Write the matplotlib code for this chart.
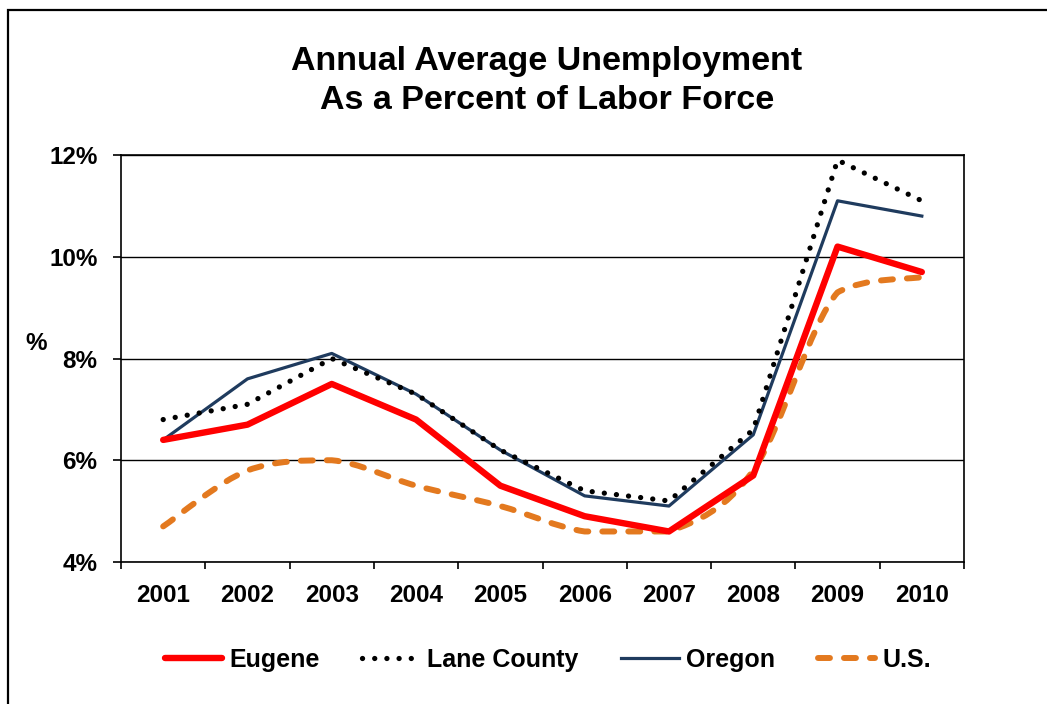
import matplotlib
matplotlib.use("Agg")
import matplotlib.pyplot as plt
from matplotlib.path import Path
from matplotlib.patches import PathPatch, Rectangle
from matplotlib.lines import Line2D
import numpy as np

plt.rcParams['font.family'] = ['Liberation Sans', 'DejaVu Sans']
plt.rcParams['font.weight'] = 'bold'

years = ['2001', '2002', '2003', '2004', '2005', '2006', '2007', '2008', '2009', '2010']
eugene = [6.4, 6.7, 7.5, 6.8, 5.5, 4.9, 4.6, 5.7, 10.2, 9.7]
lane_county = [6.8, 7.1, 8.0, 7.3, 6.2, 5.4, 5.2, 6.6, 11.9, 11.1]
oregon = [6.4, 7.6, 8.1, 7.3, 6.2, 5.3, 5.1, 6.5, 11.1, 10.8]
us = [4.7, 5.8, 6.0, 5.5, 5.1, 4.6, 4.6, 5.8, 9.3, 9.6]
y_ticks = [4, 6, 8, 10, 12]


def smooth_path(xs, ys):
    # bezier segments like a spreadsheet "smoothed line",
    # control points kept within each segment's y range so it won't overshoot
    pts = np.column_stack([xs, ys]).astype(float)
    ext = np.vstack([pts[0], pts, pts[-1]])
    verts = [pts[0]]
    codes = [Path.MOVETO]
    for i in range(len(pts) - 1):
        p0, p1, p2, p3 = ext[i], ext[i + 1], ext[i + 2], ext[i + 3]
        c1 = p1 + (p2 - p0) / 6.0
        c2 = p2 - (p3 - p1) / 6.0
        lo, hi = min(p1[1], p2[1]), max(p1[1], p2[1])
        c1[1] = np.clip(c1[1], lo, hi)
        c2[1] = np.clip(c2[1], lo, hi)
        verts += [c1, c2, p2]
        codes += [Path.CURVE4] * 3
    return Path(verts, codes)


fig = plt.figure(figsize=(10.47, 7.04), dpi=100)
ax = fig.add_axes([0.1156, 0.2017, 0.8051, 0.5781])

x = np.arange(1, len(years) + 1)

us_style = dict(color='#E3791F', linewidth=4.3, linestyle=(0, (2.0, 2.35)))
ax.add_patch(PathPatch(smooth_path(x, us), fill=False, capstyle='round',
                       joinstyle='round', zorder=3, **us_style))
ax.plot(x, oregon, color='#1F3B5E', linewidth=2.3, zorder=4)
ax.plot(x, eugene, color='#FF0000', linewidth=4.6, solid_capstyle='round', zorder=5)
ax.plot(x, lane_county, color='black', linewidth=3.8, linestyle=(0, (0.01, 2.3)),
        dash_capstyle='round', zorder=6)

ax.set_xlim(0.5, len(years) + 0.5)
ax.set_ylim(4, 12)

# category boundaries carry the ticks, centres carry the labels
ax.set_xticks(np.arange(0.5, len(years) + 1, 1.0))
ax.set_xticklabels([])
ax.set_xticks(x, minor=True)
ax.set_xticklabels(years, minor=True, fontsize=17.5, fontweight='bold')
ax.tick_params(axis='x', which='major', direction='out', length=5, width=1.2)
ax.tick_params(axis='x', which='minor', length=0, pad=16)

ax.set_yticks(y_ticks)
ax.set_yticklabels([f'{v}%' for v in y_ticks], fontsize=17.5, fontweight='bold')
ax.tick_params(axis='y', direction='out', length=6, width=1.2, pad=11)
ax.yaxis.grid(True, color='black', linewidth=1.0)
ax.set_axisbelow(True)

for s in ax.spines.values():
    s.set_linewidth(1.2)
    s.set_color('black')

fig.text(25 / 1047, 1 - 344 / 704, '%', fontsize=17.5, fontweight='bold',
         ha='left', va='center')

fig.text(547 / 1047, 1 - 81 / 704,
         'Annual Average Unemployment\nAs a Percent of Labor Force',
         fontsize=24.5, fontweight='bold', ha='center', va='center', linespacing=1.3)

handles = [
    Line2D([], [], color='#FF0000', linewidth=4.6, solid_capstyle='round'),
    Line2D([], [], color='black', linewidth=3.8, linestyle=(0, (0.01, 2.3)),
           dash_capstyle='round'),
    Line2D([], [], color='#1F3B5E', linewidth=2.3),
    Line2D([], [], color='#E3791F', linewidth=4.3, linestyle=(0, (2.0, 2.35)),
           dash_capstyle='round'),
]
fig.legend(handles, ['Eugene', 'Lane County', 'Oregon', 'U.S.'],
           loc='center', bbox_to_anchor=(548 / 1047, 1 - 660 / 704), ncol=4,
           frameon=False, fontsize=18, handlelength=2.3, handletextpad=0.3,
           columnspacing=1.7)

# outer frame, runs off the right and bottom edges
fig.patches.append(Rectangle((8 / 1047, -0.1), 1.1, 1.1 - 10 / 704,
                             transform=fig.transFigure, fill=False,
                             edgecolor='black', linewidth=1.6, clip_on=False))

fig.savefig('out.png', dpi=100, facecolor='white')
